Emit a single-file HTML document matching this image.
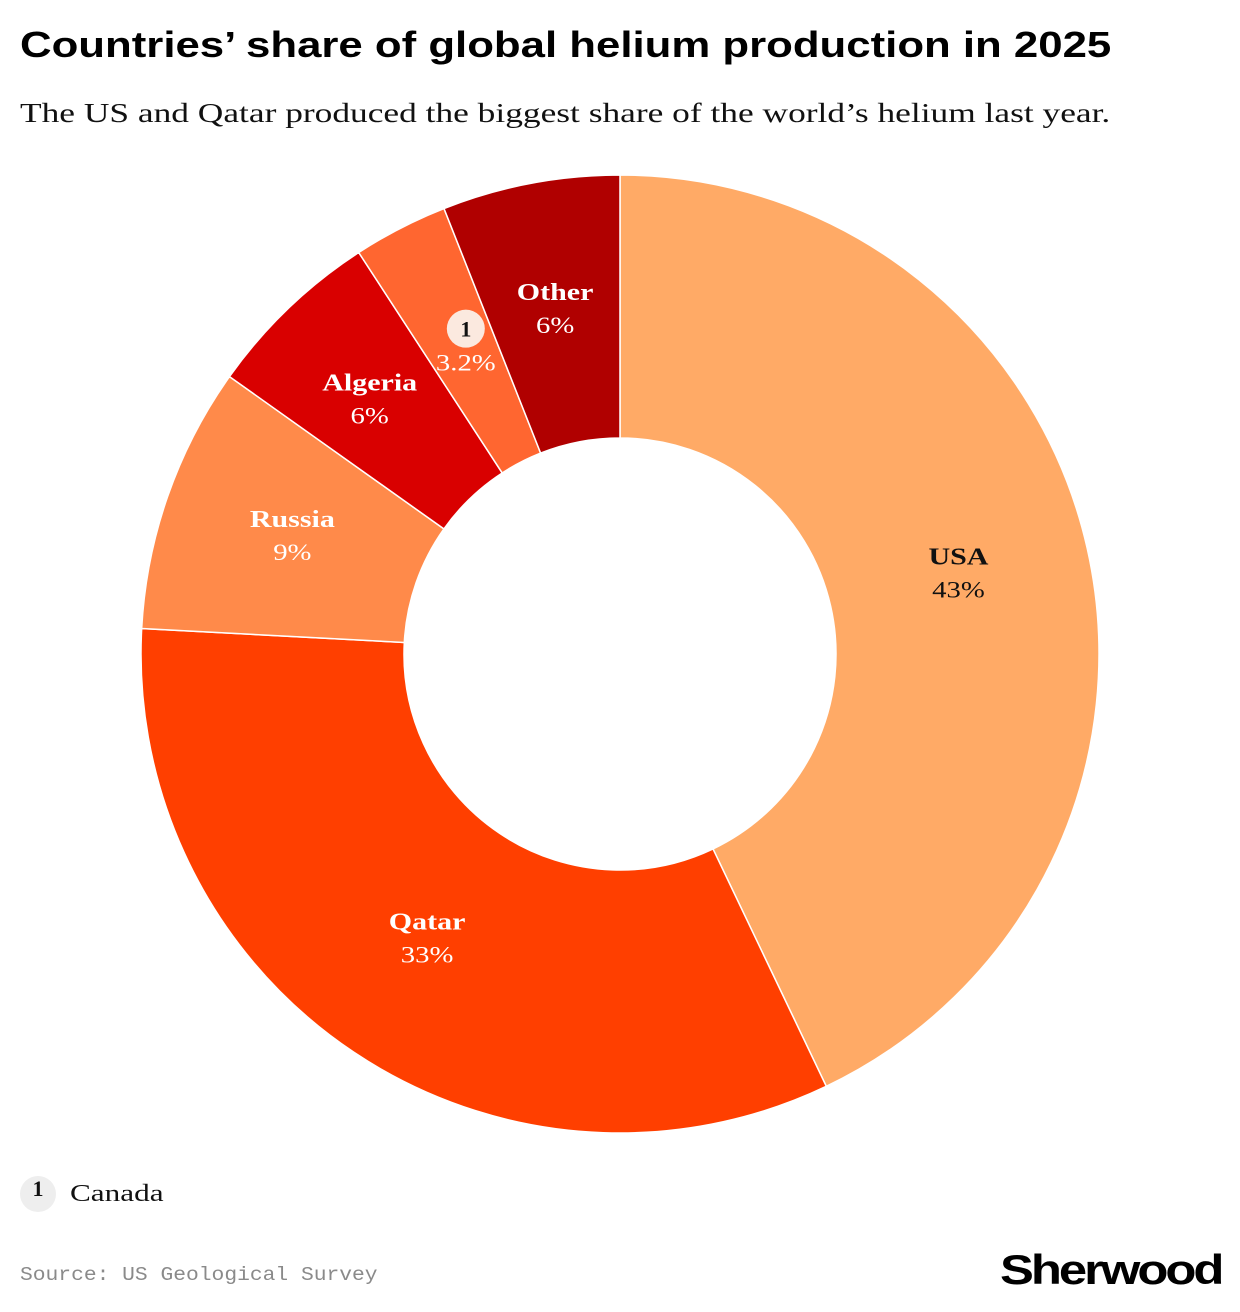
<!DOCTYPE html>
<html><head><meta charset="utf-8">
<style>
body{margin:0;background:#fff;width:1240px;height:1312px;overflow:hidden;position:relative}
.t{position:absolute;left:20px;top:24px;font:bold 36px "Liberation Sans",sans-serif;color:#000;transform-origin:0 0;transform:scaleX(1.215);white-space:nowrap}
.s{position:absolute;left:20px;top:98px;font:27px "Liberation Serif",serif;color:#111;transform-origin:0 0;transform:scaleX(1.31);white-space:nowrap}
.src{position:absolute;left:20px;top:1264px;font:19px "Liberation Mono",monospace;color:#8a8a8a;transform-origin:0 0;transform:scaleX(1.12);white-space:nowrap}
.logo{position:absolute;left:1000px;top:1246px;font:bold 42px "Liberation Sans",sans-serif;letter-spacing:-2.5px;color:#000;transform-origin:0 0;transform:scaleX(1.21);white-space:nowrap}
.leg{position:absolute;left:20px;top:1176px;font:24px "Liberation Serif",serif;color:#111;display:flex;align-items:center}
.badge{display:inline-block;width:36px;height:36px;border-radius:50%;background:#eee;text-align:center;line-height:36px;font:bold 22px "Liberation Serif",serif;margin-right:14px}
.legt{display:inline-block;transform-origin:0 50%;transform:scaleX(1.3)}
</style></head><body>
<div class="t">Countries’ share of global helium production in 2025</div>
<div class="s">The US and Qatar produced the biggest share of the world’s helium last year.</div>
<svg id="chart" width="1240" height="1312" style="position:absolute;left:0;top:0"></svg>
<div class="leg"><span class="badge">1</span><span class="legt">Canada</span></div>
<div class="src">Source: US Geological Survey</div>
<div class="logo">Sherwood</div>
<script>
const categories=["USA","Qatar","Russia","Algeria","Canada","Other"];
const values=[43,33,9,6,3.2,6];
const valueLabels=["43%","33%","9%","6%","3.2%","6%"];
const colors=["#FFAA66","#FF3F00","#FF8A4A","#D90000","#FF6630","#B00000"];
const textColors=["#111","#fff","#fff","#fff","#fff","#fff"];
const cx=620,cy=654,R=479,r=216;
const svg=document.getElementById('chart');
const NS="http://www.w3.org/2000/svg";
const total=values.reduce((a,b)=>a+b,0);
function pt(a,rad){return [cx+rad*Math.sin(a),cy-rad*Math.cos(a)];}
function txt(g,x,y,s,style){
  const t=document.createElementNS(NS,'text');
  t.setAttribute('x',0);t.setAttribute('y',0);t.setAttribute('text-anchor','middle');
  t.setAttribute('transform',`translate(${x},${y}) scale(1.25,1)`);
  t.setAttribute('style',style);t.textContent=s;g.appendChild(t);
}
let start=0;
values.forEach((v,i)=>{
  const sweep=v/total*2*Math.PI, end=start+sweep;
  const [x1,y1]=pt(start,R),[x2,y2]=pt(end,R),[x3,y3]=pt(end,r),[x4,y4]=pt(start,r);
  const lg=sweep>Math.PI?1:0;
  const p=document.createElementNS(NS,'path');
  p.setAttribute('d',`M${x1},${y1}A${R},${R} 0 ${lg} 1 ${x2},${y2}L${x3},${y3}A${r},${r} 0 ${lg} 0 ${x4},${y4}Z`);
  p.setAttribute('fill',colors[i]);p.setAttribute('stroke','#fff');p.setAttribute('stroke-width','1.5');
  
  
  svg.appendChild(p);
  const mid=(start+end)/2;let [lx,ly]=pt(mid,347);
  if(categories[i]==="Algeria")lx-=10;
  const g=document.createElementNS(NS,'g');
  
  
  if(categories[i]==="Canada"){
    lx+=5;ly+=5;
    const c=document.createElementNS(NS,'circle');
    c.setAttribute('cx',lx);c.setAttribute('cy',ly-22);c.setAttribute('r',19);c.setAttribute('fill','#fbe9df');
    g.appendChild(c);
    const t=document.createElementNS(NS,'text');
    t.setAttribute('x',lx);t.setAttribute('y',ly-14);t.setAttribute('text-anchor','middle');
    t.setAttribute('style','font:bold 22px "Liberation Serif",serif;fill:#111');t.textContent="1";g.appendChild(t);
    txt(g,lx,ly+20,valueLabels[i],'font:23px "Liberation Serif",serif;fill:#fff');
  } else {
    txt(g,lx,ly-13,categories[i],'font:bold 24px "Liberation Serif",serif;fill:'+textColors[i]);
    txt(g,lx,ly+20,valueLabels[i],'font:23px "Liberation Serif",serif;fill:'+textColors[i]);
  }
  svg.appendChild(g);
  start=end;
});
</script>
</body></html>
